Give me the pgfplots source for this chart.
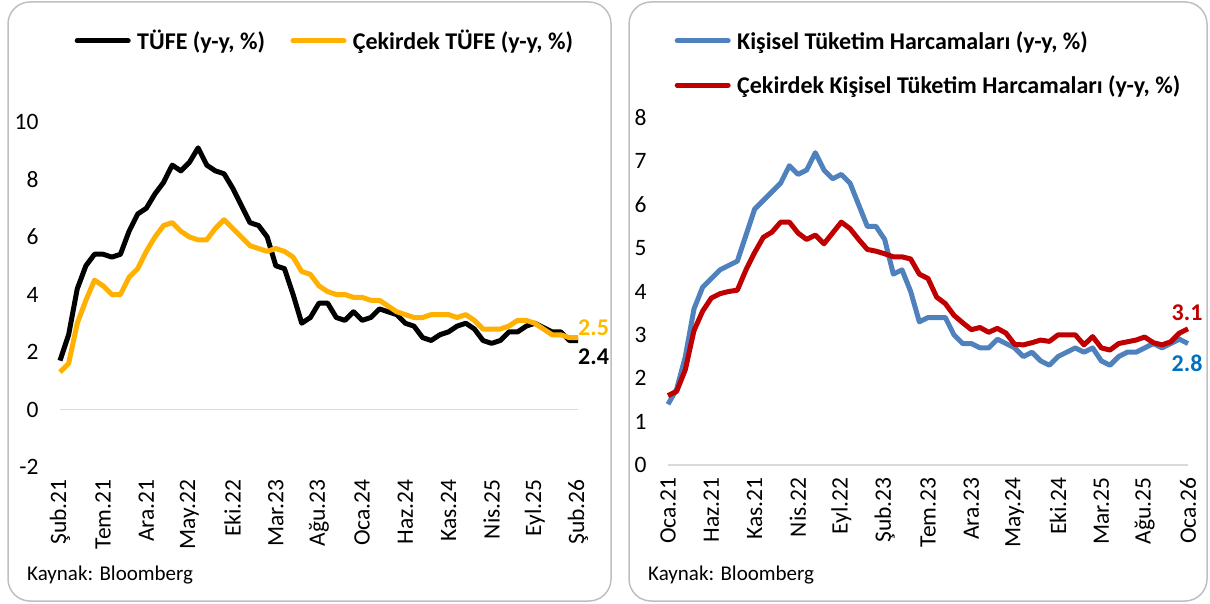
\documentclass[border=0pt]{standalone}
\usepackage{fontspec}
\setmainfont{Carlito}
\usepackage{pgfplots}
\usepackage{pgfplotstable}
\pgfplotsset{compat=1.18}

\definecolor{cpiorange}{RGB}{255,176,0}
\definecolor{lblorange}{RGB}{255,186,0}
\definecolor{pceblue}{RGB}{79,129,189}
\definecolor{lblblue}{RGB}{0,112,192}
\definecolor{pcered}{RGB}{192,0,0}
\definecolor{framegray}{RGB}{191,191,191}
\definecolor{zerogray}{RGB}{217,217,217}

% ABD TUFE / cekirdek TUFE, Sub.21 = 0
\pgfplotstableread{
m  tufe core
0  1.7  1.3
1  2.6  1.6
2  4.2  3.0
3  5.0  3.8
4  5.4  4.5
5  5.4  4.3
6  5.3  4.0
7  5.4  4.0
8  6.2  4.6
9  6.8  4.9
10 7.0  5.5
11 7.5  6.0
12 7.9  6.4
13 8.5  6.5
14 8.3  6.2
15 8.6  6.0
16 9.1  5.9
17 8.5  5.9
18 8.3  6.3
19 8.2  6.6
20 7.7  6.3
21 7.1  6.0
22 6.5  5.7
23 6.4  5.6
24 6.0  5.5
25 5.0  5.6
26 4.9  5.5
27 4.0  5.3
28 3.0  4.8
29 3.2  4.7
30 3.7  4.3
31 3.7  4.1
32 3.2  4.0
33 3.1  4.0
34 3.4  3.9
35 3.1  3.9
36 3.2  3.8
37 3.5  3.8
38 3.4  3.6
39 3.3  3.4
40 3.0  3.3
41 2.9  3.2
42 2.5  3.2
43 2.4  3.3
44 2.6  3.3
45 2.7  3.3
46 2.9  3.2
47 3.0  3.3
48 2.8  3.1
49 2.4  2.8
50 2.3  2.8
51 2.4  2.8
52 2.7  2.9
53 2.7  3.1
54 2.9  3.1
55 3.0  3.0
56 2.85 2.8
57 2.7  2.6
58 2.7  2.6
59 2.4  2.5
60 2.4  2.5
}\cpidata

% PCE / cekirdek PCE, Oca.21 = 0
\pgfplotstableread{
m  pce  core
0  1.4  1.6
1  1.75 1.7
2  2.5  2.2
3  3.6  3.1
4  4.1  3.55
5  4.3  3.85
6  4.5  3.95
7  4.6  4.0
8  4.7  4.03
9  5.3  4.5
10 5.9  4.9
11 6.1  5.25
12 6.3  5.37
13 6.5  5.6
14 6.9  5.6
15 6.7  5.35
16 6.8  5.2
17 7.2  5.3
18 6.8  5.1
19 6.6  5.35
20 6.7  5.6
21 6.5  5.45
22 6.0  5.2
23 5.5  4.97
24 5.5  4.93
25 5.2  4.87
26 4.4  4.8
27 4.5  4.8
28 4.0  4.75
29 3.3  4.4
30 3.4  4.3
31 3.4  3.87
32 3.4  3.72
33 3.0  3.45
34 2.8  3.28
35 2.8  3.12
36 2.7  3.17
37 2.7  3.06
38 2.9  3.15
39 2.8  3.04
40 2.7  2.78
41 2.5  2.77
42 2.6  2.82
43 2.4  2.88
44 2.3  2.85
45 2.5  3.0
46 2.6  3.0
47 2.7  3.0
48 2.6  2.77
49 2.7  2.96
50 2.4  2.7
51 2.3  2.65
52 2.5  2.8
53 2.6  2.84
54 2.6  2.88
55 2.7  2.95
56 2.8  2.82
57 2.7  2.77
58 2.8  2.84
59 2.9  3.04
60 2.8  3.14
}\pcedata

\tikzset{lbl/.style={anchor=west, inner sep=0pt, font=\bfseries\fontsize{24}{28}\selectfont}}

\pgfplotsset{
  panel/.style={
    scale only axis,
    clip=false,
    xmin=0, xmax=60,
    xtick={0,5,...,60},
    axis line style={draw=none},
    major tick length=0pt,
    tick label style={font=\fontsize{23.5}{27}\selectfont},
    /pgf/number format/assume math mode=true,
    xticklabel style={rotate=90, anchor=east},
    xticklabel shift=9pt,
    yticklabel shift=18pt,
    extra y ticks={0},
    extra y tick labels={},
    extra y tick style={grid=major, major grid style={zerogray, line width=1.5pt}},
    legend cell align=left,
    legend style={draw=none, fill=none, inner sep=0pt,
      font=\bfseries\fontsize{24}{28}\selectfont,
      nodes={inner sep=1pt}},
    legend image code/.code={
      \draw[##1, line width=5pt, line cap=round] (0pt,0pt) -- (51pt,0pt);
      \path (-2.5pt,0pt) (56.5pt,0pt);},
  },
}

\begin{document}
\begin{tikzpicture}
\useasboundingbox (0pt,0pt) rectangle (1210pt,603pt);
\draw[framegray, line width=1.5pt, rounded corners=22pt] (8pt,2pt) rectangle (611pt,601pt);
\draw[framegray, line width=1.5pt, rounded corners=22pt] (629pt,2pt) rectangle (1207pt,601pt);

\begin{axis}[panel,
  at={(60pt,136pt)}, anchor=south west,
  width=518pt, height=345pt,
  ymin=-2, ymax=10, ytick={-2,0,...,10},
  xticklabels={Şub.21,Tem.21,Ara.21,May.22,Eki.22,Mar.23,Ağu.23,Oca.24,Haz.24,Kas.24,Nis.25,Eyl.25,Şub.26},
  legend columns=2,
  legend style={at={(0.0232,1.235)}, anchor=west,
    /tikz/every even column/.append style={column sep=22pt}},
]
\addplot[black, line width=5pt, line join=round] table[x=m, y=tufe] {\cpidata};
\addlegendentry{TÜFE (y-y, \%)}
\addplot[cpiorange, line width=5pt, line join=round] table[x=m, y=core] {\cpidata};
\addlegendentry{Çekirdek TÜFE (y-y, \%)}
\node[lbl, text=lblorange] at (axis cs:60.0,2.83) {2.5};
\node[lbl, text=black] at (axis cs:60.0,1.85) {2.4};
\end{axis}

\begin{axis}[panel,
  at={(668pt,138pt)}, anchor=south west,
  width=520pt, height=347pt,
  ymin=0, ymax=8, ytick={0,1,...,8},
  xticklabels={Oca.21,Haz.21,Kas.21,Nis.22,Eyl.22,Şub.23,Tem.23,Ara.23,May.24,Eki.24,Mar.25,Ağu.25,Oca.26},
  legend columns=1,
  legend style={at={(0.0077,1.1585)}, anchor=west, row sep=23pt},
]
\addplot[pceblue, line width=5pt, line join=round] table[x=m, y=pce] {\pcedata};
\addlegendentry{Kişisel Tüketim Harcamaları (y-y, \%)}
\addplot[pcered, line width=5pt, line join=round] table[x=m, y=core] {\pcedata};
\addlegendentry{Çekirdek Kişisel Tüketim Harcamaları (y-y, \%)}
\node[lbl, text=pcered] at (axis cs:58.1,3.5) {3.1};
\node[lbl, text=lblblue] at (axis cs:58.1,2.35) {2.8};
\end{axis}

\node[anchor=west, inner sep=0pt, font=\fontsize{21}{25}\selectfont] at (27pt,28pt) {Kaynak: Bloomberg};
\node[anchor=west, inner sep=0pt, font=\fontsize{21}{25}\selectfont] at (648pt,28pt) {Kaynak: Bloomberg};
\end{tikzpicture}
\end{document}
